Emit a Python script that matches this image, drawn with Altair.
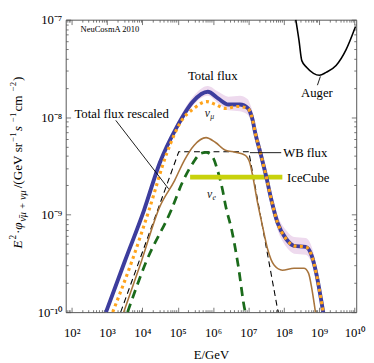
import json
import altair as alt
import pandas as pd

# ---- values: log10(E/GeV) and log10(E^2 phi / (GeV sr^-1 s^-1 cm^-2)) ----
total_logE = [2.97, 3.50, 4.05, 4.49, 4.96, 5.43, 5.85, 6.15, 6.43, 6.76, 6.99, 7.04, 7.12, 7.18,
              7.37, 7.51, 7.65, 7.82, 8.07, 8.29, 8.62, 8.79, 8.93, 9.06, 9.12]
total_logF = [-10.0, -9.48, -8.95, -8.47, -8.11, -7.84, -7.74, -7.81, -7.87, -7.87, -7.91, -7.94, -8.03, -8.14,
              -8.41, -8.62, -8.85, -9.08, -9.25, -9.32, -9.33, -9.42, -9.62, -9.88, -10.01]
band_hi_logF = [-9.98, -9.46, -8.92, -8.44, -8.07, -7.79, -7.68, -7.74, -7.79, -7.78, -7.82, -7.86, -7.95, -8.06,
                -8.33, -8.54, -8.77, -9.00, -9.16, -9.23, -9.24, -9.33, -9.54, -9.80, -9.93]
band_lo_logF = [-10.02, -9.50, -8.98, -8.50, -8.15, -7.88, -7.78, -7.86, -7.93, -7.94, -7.98, -8.01, -8.10, -8.21,
                -8.48, -8.69, -8.92, -9.15, -9.33, -9.40, -9.41, -9.50, -9.70, -9.96, -10.09]

numu_logE = [3.16, 3.70, 4.19, 4.69, 5.10, 5.46, 5.82, 6.07, 6.35, 6.68, 6.99, 7.04, 7.12, 7.18,
             7.37, 7.51, 7.65, 7.82, 8.07, 8.29, 8.62, 8.79, 8.93, 9.06, 9.12]
numu_logF = [-10.0, -9.48, -8.95, -8.37, -8.04, -7.91, -7.84, -7.87, -7.91, -7.89, -7.91, -7.94, -8.03, -8.14,
             -8.41, -8.62, -8.85, -9.08, -9.25, -9.32, -9.33, -9.42, -9.62, -9.88, -10.01]

rescaled_logE = [3.47, 3.97, 4.49, 4.91, 5.19, 5.46, 5.80, 6.07, 6.35, 6.63, 6.90, 7.04, 7.13, 7.26,
                 7.40, 7.54, 7.73, 7.96, 8.29, 8.57, 8.70, 8.79, 8.90]
rescaled_logF = [-10.0, -9.48, -8.92, -8.65, -8.44, -8.29, -8.21, -8.26, -8.34, -8.36, -8.39, -8.47, -8.62, -8.88,
                 -9.12, -9.35, -9.52, -9.57, -9.55, -9.55, -9.60, -9.75, -10.01]

wb_logE = [3.385, 5.03, 7.01, 7.84]
wb_logF = [-10.0, -8.354, -8.354, -10.0]

nue_logE = [3.58, 4.11, 4.82, 5.13, 5.43, 5.66, 5.80, 5.99, 6.13, 6.27, 6.35, 6.54, 6.71, 6.90, 6.92]
nue_logF = [-10.0, -9.48, -8.95, -8.67, -8.47, -8.37, -8.36, -8.41, -8.55, -8.75, -8.90, -9.18, -9.52, -9.98, -10.01]

auger_logE = [8.34, 8.43, 8.51, 8.65, 8.84, 9.01, 9.20, 9.48, 9.76, 10.03]
auger_logF = [-7.0, -7.21, -7.42, -7.49, -7.55, -7.57, -7.54, -7.47, -7.31, -7.07]

icecube_logE = [5.35, 7.96]
icecube_logF = -8.615

x_tick_exps = [2, 3, 4, 5, 6, 7, 8, 9, 10]
x_tick_labels = ["10²", "10³", "10⁴", "10⁵", "10⁶", "10⁷", "10⁸", "10⁹", "10¹⁰"]
y_tick_exps = [-10, -9, -8, -7]
y_tick_labels = ["10⁻¹⁰", "10⁻⁹", "10⁻⁸", "10⁻⁷"]

ann_center = [("Total flux", 5.99, -7.582), ("Total flux rescaled", 3.413, -7.973), ("Auger", 8.939, -7.752)]
ann_left = [("WB flux", 7.983, -8.364), ("IceCube", 8.094, -8.625)]
ann_small = [("NeuCosmA 2010", 2.249, -7.10)]
ann_greek = [("ν", 5.84, -7.955, "μ"), ("ν", 5.90, -8.79, "e")]
leaders = [(3.247, -8.033, 4.742, -8.735), (7.042, -8.364, 7.928, -8.364), (9.036, -7.582, 8.953, -7.672)]

# y-axis title pieces: (text, font size, italic, kind) kind: 0 normal, 1 superscript, 2 subscript
ytitle_pieces = [("E", 13.5, True, 0), ("2", 9.5, False, 1), ("·", 13.5, False, 0), ("φ", 13.5, True, 0),
                 ("ν̄μ + νμ", 10.5, True, 2), ("/(GeV sr", 13.5, False, 0), ("−1", 9, False, 1),
                 (" s", 13.5, True, 0), ("−1", 9, False, 1), (" cm", 13.5, False, 0), ("−2", 9, False, 1),
                 (")", 13.5, False, 0)]

FONT = "Liberation Serif"

def curve(le, lf):
    return pd.DataFrame({"E": [10 ** v for v in le], "F": [10 ** v for v in lf], "i": list(range(len(le)))})

x_scale = alt.Scale(type="log", domain=[10 ** 1.83, 10 ** 10.05], nice=False)
y_scale = alt.Scale(type="log", domain=[1e-10, 1e-7], nice=False)

def X(field, axis=None):
    return alt.X(field, type="quantitative", scale=x_scale, axis=axis)

def Y(field, axis=None):
    return alt.Y(field, type="quantitative", scale=y_scale, axis=axis)

x_major = [10 ** e for e in x_tick_exps]
y_major = [10.0 ** e for e in y_tick_exps]
x_minor = [k * 10 ** n for n in range(1, 10) for k in range(2, 10) if 10 ** 1.83 <= k * 10 ** n <= 10 ** 10.05]
y_minor = [k * 10.0 ** n for n in range(-10, -7) for k in range(2, 10)]

x_expr = json.dumps(x_tick_labels, ensure_ascii=False) + "[round(log(datum.value)/LN10)-2]"
y_expr = json.dumps(y_tick_labels, ensure_ascii=False) + "[round(log(datum.value)/LN10)+10]"

label_x_axis = alt.Axis(orient="bottom", values=x_major, labelExpr=x_expr, ticks=False, tickSize=0,
                        domain=False, grid=False, labelFont=FONT, labelFontSize=13, labelColor="black",
                        labelPadding=15, labelFlush=False, labelOverlap=False,
                        title="E/GeV", titleFont=FONT, titleFontSize=13, titleFontWeight="normal",
                        titleColor="black", titlePadding=9)
label_y_axis = alt.Axis(orient="left", values=y_major, labelExpr=y_expr, ticks=False, tickSize=0,
                        domain=False, grid=False, labelFont=FONT, labelFontSize=13, labelColor="black",
                        labelPadding=4, labelFlush=False, labelOverlap=False, title=None)

def tick_axis(orient, values, size):
    return alt.Axis(orient=orient, values=values, ticks=True, tickSize=size, offset=-size, labels=False,
                    domain=False, grid=False, title=None, tickColor="#555", tickWidth=0.8)

total_df = curve(total_logE, total_logF)
band_df = pd.DataFrame({"E": [10 ** v for v in total_logE], "hi": [10 ** v for v in band_hi_logF],
                        "lo": [10 ** v for v in band_lo_logF]})

layers = []
layers.append(alt.Chart(band_df).mark_area(color="#eedaee", clip=True, interpolate="monotone").encode(
    x=X("E", label_x_axis), y=Y("hi", label_y_axis), y2="lo"))

for ox, oy, vx, vy, s in [("bottom", "left", x_major, y_major, 5), ("bottom", "left", x_minor, y_minor, 2.5),
                          ("top", "right", x_major, y_major, 5), ("top", "right", x_minor, y_minor, 2.5)]:
    layers.append(alt.Chart(total_df).mark_line(opacity=0).encode(
        x=X("E", tick_axis(ox, vx, s)), y=Y("F", tick_axis(oy, vy, s))))

layers.append(alt.Chart(curve(wb_logE, wb_logF)).mark_line(color="black", strokeWidth=1.1, strokeDash=[6, 4], clip=True)
              .encode(x=X("E"), y=Y("F"), order="i:Q"))
layers.append(alt.Chart(curve(rescaled_logE, rescaled_logF)).mark_line(color="#a8743c", strokeWidth=1.6, clip=True,
                                                                       interpolate="monotone")
              .encode(x=X("E"), y=Y("F"), order="i:Q"))
layers.append(alt.Chart(curve(nue_logE, nue_logF)).mark_line(color="#1b6b1b", strokeWidth=2.8, strokeDash=[9, 6],
                                                             clip=True, interpolate="monotone")
              .encode(x=X("E"), y=Y("F"), order="i:Q"))
ice_df = pd.DataFrame({"E1": [10 ** icecube_logE[0]], "E2": [10 ** icecube_logE[1]], "F": [10 ** icecube_logF]})
layers.append(alt.Chart(ice_df).mark_rule(color="#c8d20c", strokeWidth=5).encode(x=X("E1"), x2="E2", y=Y("F")))
layers.append(alt.Chart(total_df).mark_line(color="#3d3d9e", strokeWidth=4, clip=True, interpolate="monotone")
              .encode(x=X("E"), y=Y("F"), order="i:Q"))
layers.append(alt.Chart(curve(numu_logE, numu_logF)).mark_line(color="#ffa41c", strokeWidth=3.2, strokeDash=[3, 3.5],
                                                               clip=True, interpolate="monotone")
              .encode(x=X("E"), y=Y("F"), order="i:Q"))
layers.append(alt.Chart(curve(auger_logE, auger_logF)).mark_line(color="black", strokeWidth=1.6, clip=True,
                                                                 interpolate="monotone")
              .encode(x=X("E"), y=Y("F"), order="i:Q"))

lead_df = pd.DataFrame({"E1": [10 ** a[0] for a in leaders], "F1": [10 ** a[1] for a in leaders],
                        "E2": [10 ** a[2] for a in leaders], "F2": [10 ** a[3] for a in leaders]})
layers.append(alt.Chart(lead_df).mark_rule(color="black", strokeWidth=0.9).encode(
    x=X("E1"), y=Y("F1"), x2="E2", y2="F2"))

def ann_df(rows):
    return pd.DataFrame({"t": [r[0] for r in rows], "E": [10 ** r[1] for r in rows], "F": [10 ** r[2] for r in rows]})

layers.append(alt.Chart(ann_df(ann_center)).mark_text(font=FONT, fontSize=13, align="center", baseline="middle",
                                                      color="black")
              .encode(x=X("E"), y=Y("F"), text="t:N"))
layers.append(alt.Chart(ann_df(ann_left)).mark_text(font=FONT, fontSize=13, align="left", baseline="middle",
                                                    color="black")
              .encode(x=X("E"), y=Y("F"), text="t:N"))
layers.append(alt.Chart(ann_df(ann_small)).mark_text(font=FONT, fontSize=8.7, align="left", baseline="middle",
                                                     color="black")
              .encode(x=X("E"), y=Y("F"), text="t:N"))
greek_df = pd.DataFrame({"t": [r[0] for r in ann_greek], "s": [r[3] for r in ann_greek],
                         "E": [10 ** r[1] for r in ann_greek], "F": [10 ** r[2] for r in ann_greek]})
layers.append(alt.Chart(greek_df).mark_text(font=FONT, fontSize=12, fontStyle="italic", align="center",
                                            baseline="middle", color="#222")
              .encode(x=X("E"), y=Y("F"), text="t:N"))
layers.append(alt.Chart(greek_df).mark_text(font=FONT, fontSize=8, fontStyle="italic", align="left",
                                            baseline="middle", color="#222", dx=3, dy=4)
              .encode(x=X("E"), y=Y("F"), text="s:N"))

# y axis title: rotated pieces laid end to end, widths estimated from Times-like metrics
EM = {"E": .61, "2": .5, "·": .25, "φ": .52, "ν": .46, "\u0304": 0, "μ": .5, "+": .6, " ": .25, "/": .28,
      "(": .33, ")": .33, "G": .72, "e": .44, "V": .72, "s": .39, "r": .33, "−": .56, "1": .5, "c": .44, "m": .78}
one = pd.DataFrame({"a": [0]})
pos = 234.0  # start (plot coords), text runs upward
base_x = {0: -45, 1: -50.5, 2: -41}
for text, size, italic, kind in ytitle_pieces:
    kw = dict(text=text, font=FONT, fontSize=size, angle=270, align="left", baseline="alphabetic", color="black")
    if italic:
        kw["fontStyle"] = "italic"
    layers.append(alt.Chart(one).mark_text(**kw).encode(x=alt.value(base_x[kind]), y=alt.value(pos)))
    pos -= sum(EM.get(ch, .5) for ch in text) * size + (2.5 if kind == 2 else 1.0)

chart = alt.layer(*layers).resolve_axis(x="independent", y="independent").properties(
    width=297, height=299, autosize=alt.AutoSizeParams(type="none"),
    padding={"left": 59, "top": 8, "right": 10, "bottom": 46},
).configure_view(stroke="#555", strokeWidth=1).configure_axis(grid=False)

chart.save("out.html", embed_options={"renderer": "svg", "actions": False})
